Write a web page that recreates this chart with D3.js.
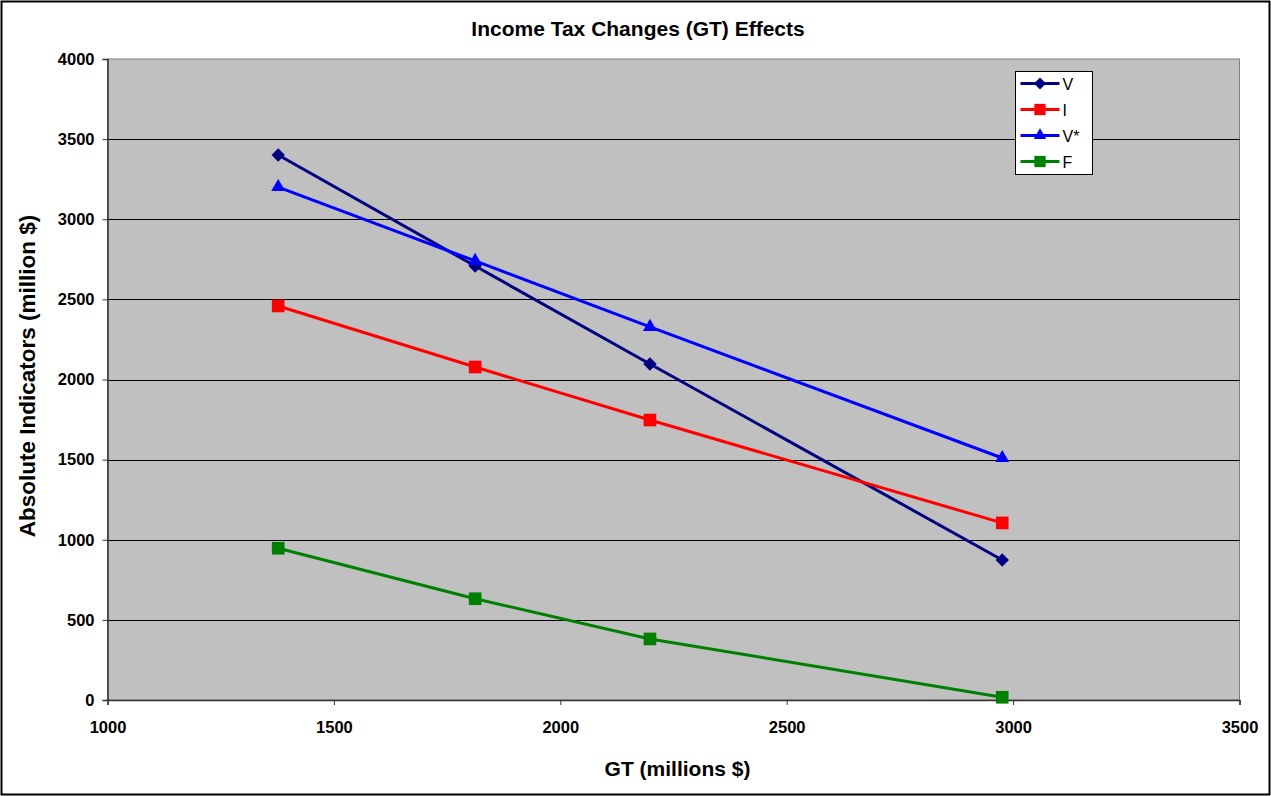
<!DOCTYPE html>
<html>
<head>
<meta charset="utf-8">
<script src="https://cdn.jsdelivr.net/npm/d3@7"></script>
<style>
  body { margin: 0; background: #fff; }
  text { font-family: "Liberation Sans", Arial, sans-serif; }
</style>
</head>
<body>
<svg width="1271" height="796"></svg>
<script>
var gt = [1377, 1812, 2198, 2976];
var seriesV = [3401, 2708, 2097, 874];
var seriesI = [2459, 2078, 1747, 1105];
var seriesVstar = [3201, 2740, 2328, 1510];
var seriesF = [947, 632, 381, 17];
var xTicks = [1000, 1500, 2000, 2500, 3000, 3500];
var yTicks = [0, 500, 1000, 1500, 2000, 2500, 3000, 3500, 4000];

// diamond = square turned 45 degrees
var series = [
    { name: "V", values: seriesV, color: "#000080", symbol: d3.symbolSquare, size: 90, rot: 45 },
    { name: "I", values: seriesI, color: "#ff0000", symbol: d3.symbolSquare, size: 160, rot: 0 },
    { name: "V*", values: seriesVstar, color: "#0000ff", symbol: d3.symbolTriangle, size: 85, rot: 0 },
    { name: "F", values: seriesF, color: "#008000", symbol: d3.symbolSquare, size: 160, rot: 0 }
];

var svg = d3.select("svg"),
    width = +svg.attr("width"),
    height = +svg.attr("height");

var plot = { left: 107.5, right: 1239.5, top: 59, bottom: 700 };

// outer frame
svg.append("rect")
    .attr("x", 1.5).attr("y", 1.5)
    .attr("width", width - 3).attr("height", height - 3)
    .attr("fill", "#fff").attr("stroke", "#000").attr("stroke-width", 2);

var x = d3.scaleLinear().domain([1000, 3500]).range([plot.left, plot.right]);
var y = d3.scaleLinear().domain([0, 4000]).range([plot.bottom, plot.top]);

// plot area
svg.append("rect")
    .attr("x", plot.left).attr("y", plot.top)
    .attr("width", plot.right - plot.left).attr("height", plot.bottom - plot.top)
    .attr("fill", "#c0c0c0").attr("stroke", "#808080").attr("stroke-width", 1);

// gridlines
svg.append("g")
    .selectAll("line")
    .data(yTicks.slice(1, -1))
    .enter().append("line")
    .attr("x1", plot.left).attr("x2", plot.right)
    .attr("y1", function (d) { return Math.round(y(d)) + 0.5; })
    .attr("y2", function (d) { return Math.round(y(d)) + 0.5; })
    .attr("stroke", "#000").attr("stroke-width", 1);

var xAxis = svg.append("g")
    .attr("transform", "translate(0," + plot.bottom + ")")
    .call(d3.axisBottom(x).tickValues(xTicks).tickSize(5).tickPadding(16).tickFormat(d3.format("d")));

var yAxis = svg.append("g")
    .attr("transform", "translate(" + plot.left + ",0)")
    .call(d3.axisLeft(y).tickValues(yTicks).tickSize(5).tickPadding(8).tickFormat(d3.format("d")));

[xAxis, yAxis].forEach(function (a) {
    a.attr("font-size", null).attr("font-family", null);
    a.select(".domain").attr("stroke", "#333").attr("stroke-width", 1.5);
    a.selectAll(".tick line").attr("stroke", "#333");
    a.selectAll(".tick text")
        .attr("fill", "#000")
        .style("font-size", "16.5px")
        .style("font-weight", "bold");
});

var line = d3.line()
    .x(function (d, i) { return x(gt[i]); })
    .y(function (d) { return y(d); });

series.forEach(function (s) {
    svg.append("path")
        .datum(s.values)
        .attr("d", line)
        .attr("fill", "none")
        .attr("stroke", s.color)
        .attr("stroke-width", 3);
});

series.forEach(function (s) {
    svg.append("g")
        .selectAll("path")
        .data(s.values)
        .enter().append("path")
        .attr("d", d3.symbol().type(s.symbol).size(s.size))
        .attr("transform", function (d, i) {
            return "translate(" + x(gt[i]) + "," + y(d) + ") rotate(" + s.rot + ")";
        })
        .attr("fill", s.color);
});

// legend
var legend = svg.append("g").attr("transform", "translate(1015.5,71.5)");
legend.append("rect")
    .attr("width", 77).attr("height", 103)
    .attr("fill", "#fff").attr("stroke", "#000").attr("stroke-width", 1);

var item = legend.selectAll("g.item")
    .data(series)
    .enter().append("g")
    .attr("class", "item")
    .attr("transform", function (d, i) { return "translate(0," + (12 + i * 26) + ")"; });

item.append("line")
    .attr("x1", 5).attr("x2", 44)
    .attr("stroke", function (d) { return d.color; })
    .attr("stroke-width", 3);

item.append("path")
    .attr("d", function (d) { return d3.symbol().type(d.symbol).size(d.size * 0.8)(); })
    .attr("transform", function (d) { return "translate(24.5,0) rotate(" + d.rot + ")"; })
    .attr("fill", function (d) { return d.color; });

item.append("text")
    .attr("x", 47).attr("y", 6)
    .style("font-size", "16px")
    .text(function (d) { return d.name; });

// titles
svg.append("text")
    .attr("x", 638).attr("y", 36)
    .attr("text-anchor", "middle")
    .style("font-size", "21px").style("font-weight", "bold")
    .text("Income Tax Changes (GT) Effects");

svg.append("text")
    .attr("x", 677.5).attr("y", 776)
    .attr("text-anchor", "middle")
    .style("font-size", "21px").style("font-weight", "bold")
    .text("GT (millions $)");

svg.append("text")
    .attr("transform", "translate(35,376) rotate(-90)")
    .attr("text-anchor", "middle")
    .style("font-size", "22.5px").style("font-weight", "bold")
    .text("Absolute Indicators (million $)");
</script>
</body>
</html>
